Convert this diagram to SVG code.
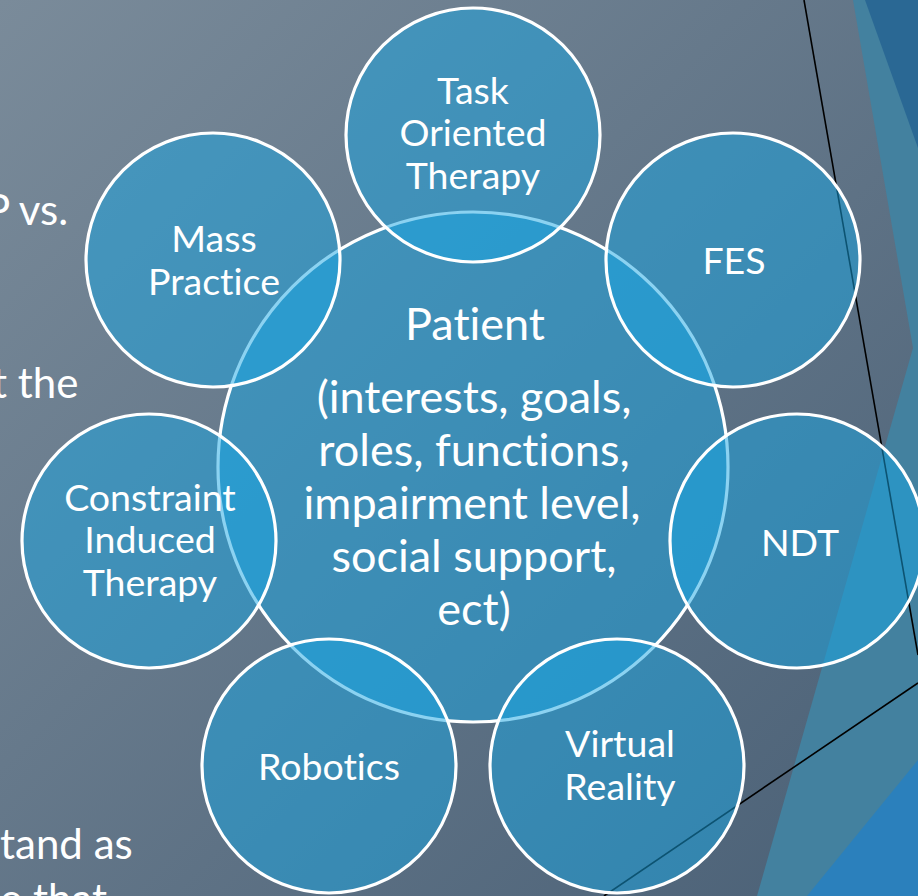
<svg xmlns="http://www.w3.org/2000/svg" width="918" height="896" viewBox="0 0 918 896">
  <defs>
    <linearGradient id="bg" x1="0" y1="0" x2="918" y2="896" gradientUnits="userSpaceOnUse">
      <stop offset="0" stop-color="#7a8b9a"/>
      <stop offset="1" stop-color="#4a6076"/>
    </linearGradient>
    <style>
      text { font-variant-ligatures: none; }
      .ring { fill: #18a6e4; fill-opacity: 0.5; stroke: #ffffff; stroke-width: 3.2; }
      .lbl { font-family: Lato, "Open Sans", "Liberation Sans", sans-serif; fill: #ffffff; text-anchor: middle; }
      .sm { font-size: 37.5px; }
      .hub { font-size: 45px; }
      .body { font-family: Lato, "Open Sans", "Liberation Sans", sans-serif; fill: #ffffff; font-size: 42px; }
      .edge { stroke: #000000; stroke-width: 1.6; fill: none; }
    </style>
  </defs>

  <!-- slide background and right-hand accent shapes -->
  <g id="background">
    <rect width="918" height="896" fill="url(#bg)"/>
    <polygon points="853,0 913,348 757,896 918,896 918,0" fill="#43819f"/>
    <polygon points="865,0 918,148 918,0" fill="#2a6894"/>
    <polygon points="918,760 807,896 918,896" fill="#2b80bc"/>
    <line class="edge" x1="804" y1="0" x2="918" y2="655"/>
    <line class="edge" x1="604" y1="896" x2="918" y2="683"/>
  </g>

  <!-- slide body text running behind the diagram -->
  <g id="slide-text">
    <text class="body" x="-15" y="225">P vs.</text>
    <text class="body" x="-8" y="398">t the</text>
    <text class="body" x="0" y="859">tand as</text>
    <text class="body" x="0" y="914">e that</text>
  </g>

  <g id="connectors"/>

  <g id="patient">
    <circle class="ring" cx="473" cy="467" r="255"/>
    <text class="lbl hub" x="475" y="340">Patient</text>
    <text class="lbl hub" x="474" y="413">(interests, goals,</text>
    <text class="lbl hub" x="474" y="466">roles, functions,</text>
    <text class="lbl hub" x="472" y="519">impairment level,</text>
    <text class="lbl hub" x="474" y="572">social support,</text>
    <text class="lbl hub" x="474" y="625">ect)</text>
  </g>

  <g id="task-oriented-therapy">
    <circle class="ring" cx="473" cy="135" r="127"/>
    <text class="lbl sm" x="473" y="104">Task</text>
    <text class="lbl sm" x="473" y="146">Oriented</text>
    <text class="lbl sm" x="473" y="189">Therapy</text>
  </g>

  <g id="fes">
    <circle class="ring" cx="733" cy="260" r="127"/>
    <text class="lbl sm" x="734" y="274">FES</text>
  </g>

  <g id="ndt">
    <circle class="ring" cx="797" cy="541" r="127"/>
    <text class="lbl sm" x="800" y="556">NDT</text>
  </g>

  <g id="virtual-reality">
    <circle class="ring" cx="617" cy="766" r="127"/>
    <text class="lbl sm" x="620" y="757">Virtual</text>
    <text class="lbl sm" x="620" y="800">Reality</text>
  </g>

  <g id="robotics">
    <circle class="ring" cx="329" cy="766" r="127"/>
    <text class="lbl sm" x="329" y="780">Robotics</text>
  </g>

  <g id="constraint-induced-therapy">
    <circle class="ring" cx="149" cy="541" r="127"/>
    <text class="lbl sm" x="150" y="511">Constraint</text>
    <text class="lbl sm" x="150" y="553">Induced</text>
    <text class="lbl sm" x="150" y="596">Therapy</text>
  </g>

  <g id="mass-practice">
    <circle class="ring" cx="213" cy="260" r="127"/>
    <text class="lbl sm" x="214" y="252">Mass</text>
    <text class="lbl sm" x="214" y="295">Practice</text>
  </g>
</svg>
